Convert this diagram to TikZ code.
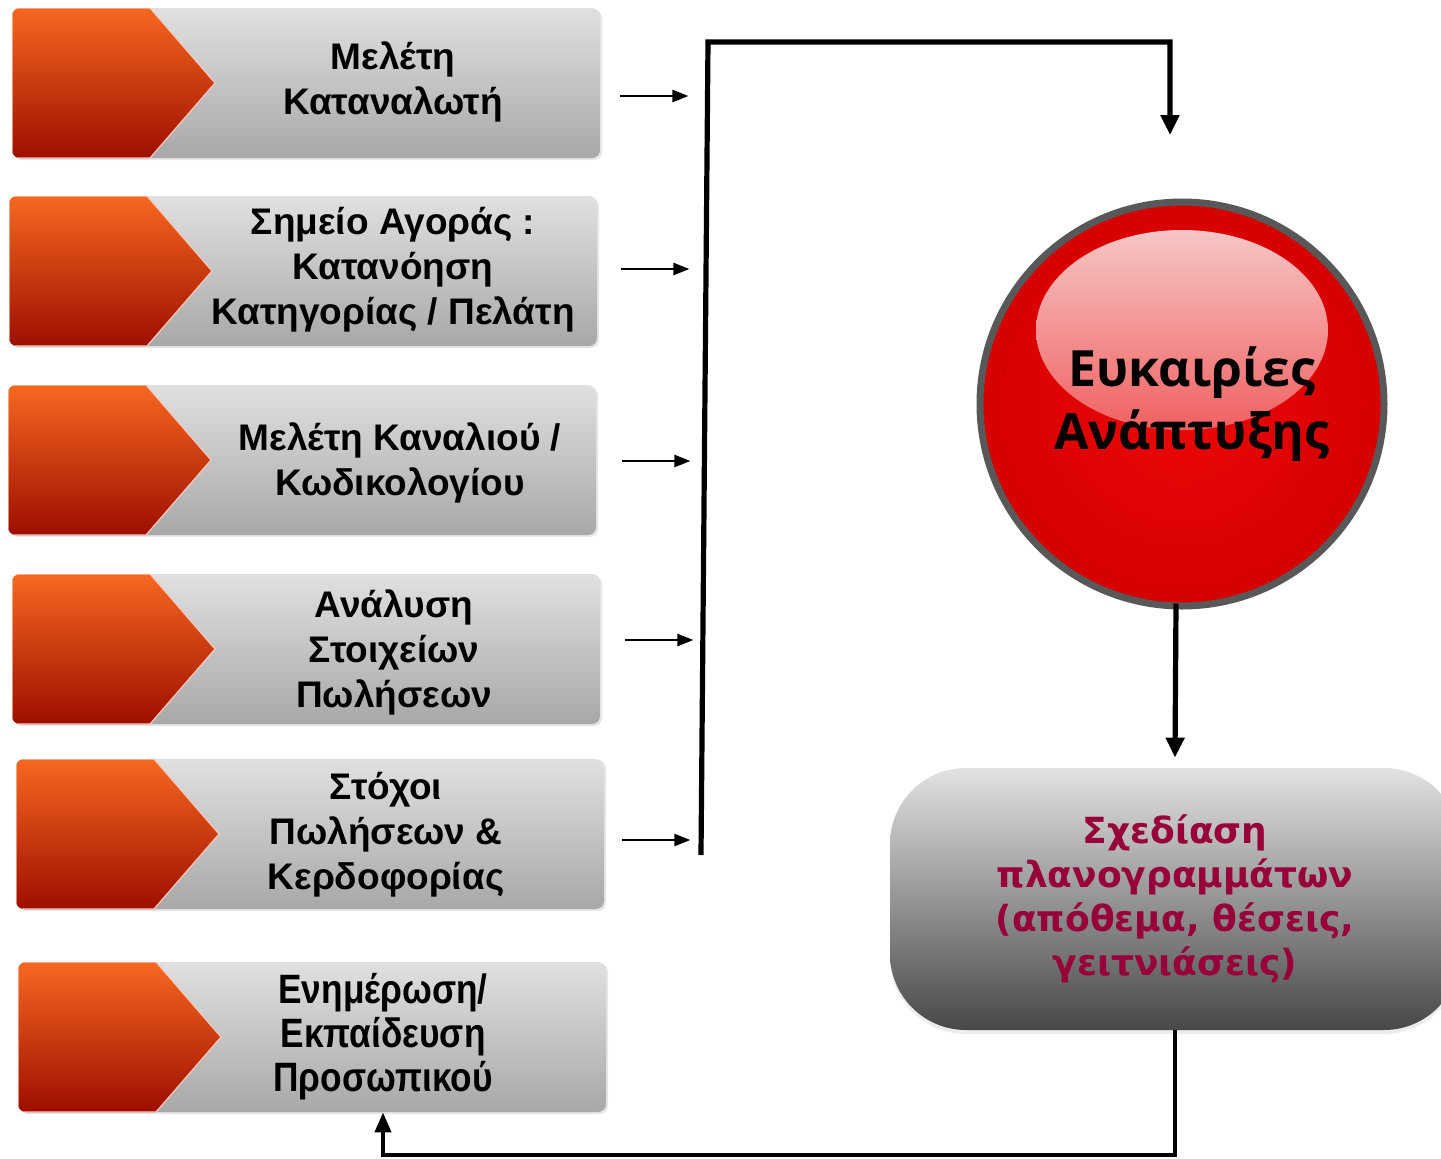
\documentclass[tikz,border=0pt]{standalone}
\usepackage{fontspec}
\setmainfont{Liberation Sans}
\newfontfamily\boxfont{Liberation Sans}
\newfontfamily\narrowfont[FakeStretch=0.86]{Liberation Sans}
\newfontfamily\ballfont{Open Sans}
\newfontfamily\pillfont{DejaVu Sans}
\usetikzlibrary{arrows.meta,shadows,positioning}

\definecolor{chevtop}{RGB}{246,104,32}
\definecolor{chevmid}{RGB}{214,48,6}
\definecolor{chevbot}{RGB}{158,14,0}
\definecolor{chevedge}{RGB}{250,200,185}
\definecolor{boxtop}{RGB}{224,224,224}
\definecolor{boxbot}{RGB}{168,168,168}
\definecolor{ballred}{RGB}{236,8,8}
\definecolor{balldark}{RGB}{214,0,0}
\definecolor{ballshine}{RGB}{246,212,212}
\definecolor{ringgray}{RGB}{88,88,88}
\definecolor{pilltop}{RGB}{226,226,226}
\definecolor{pillmid}{RGB}{160,160,160}
\definecolor{pillbot}{RGB}{72,72,72}
\definecolor{maroon}{RGB}{152,0,58}

\tikzset{
  stagebox/.style={rectangle, rounded corners=4pt, minimum width=294pt, minimum height=75pt,
    inner sep=0pt, top color=boxtop, bottom color=boxbot,
    drop shadow={opacity=0.2, shadow xshift=1pt, shadow yshift=-1pt},
    path picture={\shadedraw[sharp corners, top color=chevtop, middle color=chevmid, bottom color=chevbot,
      draw=chevedge, line width=0.6pt]
      (path picture bounding box.north west) -- ([xshift=69pt]path picture bounding box.north west)
      -- ([xshift=101.5pt]path picture bounding box.west)
      -- ([xshift=69pt]path picture bounding box.south west)
      -- (path picture bounding box.south west) -- cycle;}},
  stagetext/.style={font=\boxfont\bfseries\fontsize{18.5}{22.5}\selectfont, align=center, inner sep=0pt},
  ballnode/.style={circle, minimum size=202pt, inner sep=0pt, draw=ringgray, line width=3.5pt,
    inner color=ballred, outer color=balldark,
    path picture={\shade[top color=ballshine, bottom color=ballred]
      ([yshift=37pt]path picture bounding box.center) ellipse [x radius=73pt, y radius=50pt];},
    font=\ballfont\bfseries\fontsize{25}{31.5}\selectfont, align=center},
  pillnode/.style={rectangle, rounded corners=38pt, minimum width=285pt, minimum height=131pt,
    inner sep=0pt, top color=pilltop, middle color=pillmid, bottom color=pillbot,
    drop shadow={opacity=0.15, shadow xshift=0pt, shadow yshift=-2pt},
    font=\pillfont\bfseries\fontsize{18}{22}\selectfont, text=maroon, align=center},
  feed/.style={-{Triangle[length=8pt,width=6pt]}, line width=1.2pt},
  bus/.style={-{Triangle[length=10pt,width=9pt]}, line width=2.6pt},
  back/.style={-{Triangle[length=10pt,width=8pt]}, line width=2pt}
}

\begin{document}
\begin{tikzpicture}[x=0.5pt,y=-0.5pt]
\useasboundingbox (0,0) rectangle (1441,1158);

\node[stagebox] (s1) at (306,83) {};
\node[stagebox] (s2) at (303,271) {};
\node[stagebox] (s3) at (302,460) {};
\node[stagebox] (s4) at (306,649) {};
\node[stagebox] (s5) at (310,834) {};
\node[stagebox] (s6) at (312,1037) {};

\node[stagetext] (t1) at (393,82) {Μελέτη\\Καταναλωτή};
\node[stagetext] (t2) at (393,270) {Σημείο Αγοράς :\\Κατανόηση\\Κατηγορίας / Πελάτη};
\node[stagetext] (t3) at (400,463) {Μελέτη Καναλιού /\\Κωδικολογίου};
\node[stagetext] (t4) at (394,652) {Ανάλυση\\Στοιχείων\\Πωλήσεων};
\node[stagetext] (t5) at (386,835) {Στόχοι\\Πωλήσεων \&\\Κερδοφορίας};
\node[stagetext, font=\narrowfont\bfseries\fontsize{20.5}{22}\selectfont] (t6) at (383,1037) {Ενημέρωση/\\Εκπαίδευση\\Προσωπικού};

\node[ballnode] (ball) at (1182,404) {\hspace*{10pt}Ευκαιρίες\\\hspace*{10pt}Ανάπτυξης};
\node[pillnode] (plan) at (1175,899) {Σχεδίαση\\πλανογραμμάτων\\(απόθεμα, θέσεις,\\γειτνιάσεις)};

\draw[feed] ([shift={(10pt,-6.5pt)}]s1.east) -- +(34pt,0);
\draw[feed] ([shift={(12pt,1pt)}]s2.east) -- +(34pt,0);
\draw[feed] ([shift={(13pt,-0.5pt)}]s3.east) -- +(34pt,0);
\draw[feed] ([shift={(12.5pt,4.5pt)}]s4.east) -- +(34pt,0);
\draw[feed] ([shift={(9pt,-3pt)}]s5.east) -- +(34pt,0);

\coordinate (bustop) at (708,42);
\coordinate (busbot) at (701,855);
\coordinate (busend) at (1170,135);
\draw[bus] (busbot) -- (bustop) -- (bustop -| busend) -- (busend);

\draw[bus] ([shift={(-3pt,3pt)}]ball.south) -- ([yshift=5pt]plan.north);
\draw[back] (plan.south) -- ++(0,125) -| (t6 |- s6.south);
\end{tikzpicture}
\end{document}
